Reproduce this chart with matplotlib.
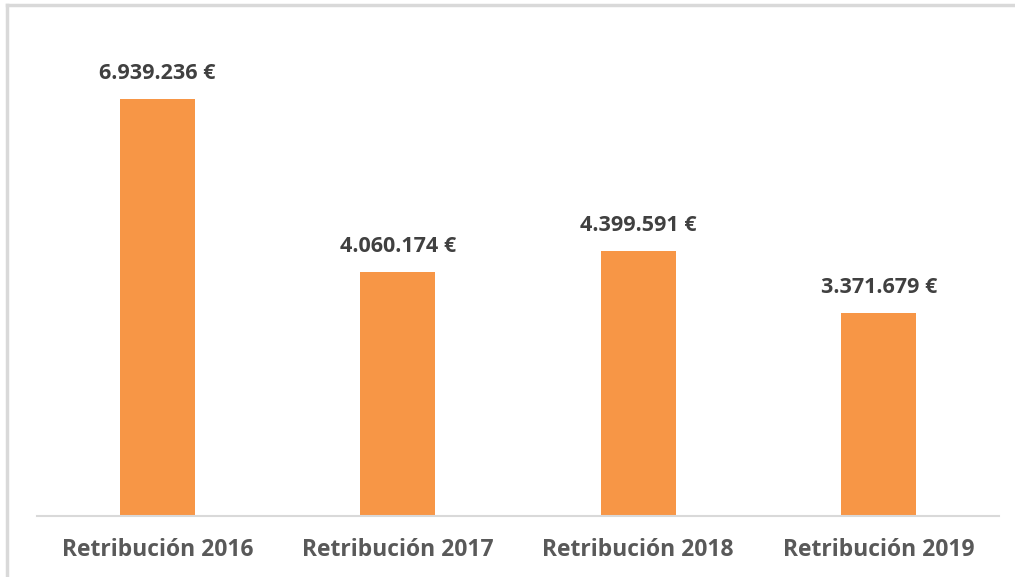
import matplotlib.pyplot as plt
from matplotlib.lines import Line2D

# data
categories = ['Retribución 2016', 'Retribución 2017', 'Retribución 2018', 'Retribución 2019']
values = [6939236, 4060174, 4399591, 3371679]
labels = ['6.939.236 €', '4.060.174 €', '4.399.591 €', '3.371.679 €']

plt.rcParams['font.family'] = ['Open Sans', 'DejaVu Sans']

W, H = 1015, 577
fig = plt.figure(figsize=(W / 100, H / 100), dpi=100)
ax = fig.add_axes([37 / W, (H - 516) / H, (999 - 37) / W, (516 - 35) / H])

x = range(len(categories))
ax.bar(x, values, width=0.31, color='#F79646', zorder=2)

for xi, v, lab in zip(x, values, labels):
    ax.annotate(lab, (xi, v), xytext=(0, 11), textcoords='offset points',
                ha='center', va='bottom', fontsize=15.5, fontweight='bold', color='#404040')

ax.set_xlim(-0.5, 3.5)
ax.set_ylim(0, 8000000)
ax.set_xticks(list(x))
ax.set_xticklabels(categories, fontsize=16.5, fontweight='bold', color='#595959')
ax.tick_params(axis='x', length=0, pad=16)
ax.set_yticks([])
for s in ['top', 'right', 'left']:
    ax.spines[s].set_visible(False)
ax.spines['bottom'].set_color('#D9D9D9')
ax.spines['bottom'].set_linewidth(1.5)

# outer chart border (cropped)
fig.add_artist(Line2D([6.5 / W, 6.5 / W], [0, (H - 5) / H], transform=fig.transFigure, color='#D9D9D9', lw=2.5))
fig.add_artist(Line2D([6.5 / W, 1], [(H - 5) / H, (H - 5) / H], transform=fig.transFigure, color='#D9D9D9', lw=2.5))

fig.savefig('out.png', dpi=100)
